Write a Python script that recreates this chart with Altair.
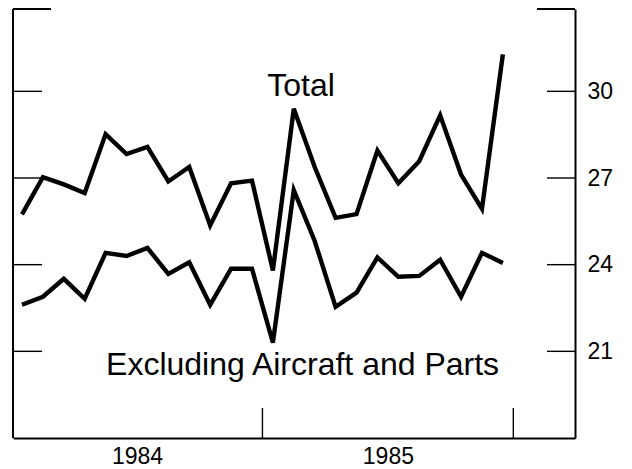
import altair as alt
import pandas as pd

# Monthly data, Jan 1984 .. Dec 1985 (billions of dollars)
month_index = list(range(24))
total = [25.74, 27.03, 26.78, 26.48, 28.52, 27.83, 28.08, 26.88, 27.38, 25.36, 26.82, 26.91,
         23.80, 29.40, 27.38, 25.62, 25.75, 27.95, 26.82, 27.58, 29.17, 27.12, 25.93, 31.28]
excluding = [22.61, 22.89, 23.51, 22.82, 24.41, 24.30, 24.58, 23.68, 24.08, 22.61, 23.86, 23.86,
             21.30, 26.58, 24.82, 22.54, 23.03, 24.25, 23.58, 23.61, 24.17, 22.89, 24.41, 24.06]
y_tick_values = [21, 24, 27, 30]
year_names = ["1984", "1985"]
year_mid = [6, 18]
year_bounds = [12, 24]
series_labels = ["Total", "Excluding Aircraft and Parts"]
label_x = [13.85, 13.92]
label_y = [29.84, 20.19]

W, H = 562, 429
FONT = "Liberation Sans"

rows = []
for name, vals in (("Total", total), ("Excluding", excluding)):
    for m, v in zip(month_index, vals):
        rows.append({"series": name, "t": m + 0.5, "value": v})
df = pd.DataFrame(rows)

xscale = alt.Scale(domain=[0.07, 26.95], nice=False, zero=False)
yscale = alt.Scale(domain=[18, 32.85], nice=False, zero=False)

x_axis = alt.Axis(values=year_mid,
                  labelExpr="datum.value == 6 ? '%s' : '%s'" % (year_names[0], year_names[1]),
                  ticks=False, tickSize=0, grid=False, title=None, domain=True,
                  domainColor="black", domainWidth=2, labelFont=FONT, labelFontSize=23,
                  labelColor="black", labelPadding=7)
y_axis = alt.Axis(orient="right", values=y_tick_values, ticks=False, tickSize=0,
                  grid=False, title=None, domain=True, domainColor="black",
                  domainWidth=2, labelFont=FONT, labelFontSize=23,
                  labelColor="black", labelPadding=12)

lines = alt.Chart(df).mark_line(color="black", strokeWidth=4.4, strokeJoin="miter").encode(
    x=alt.X("t:Q", scale=xscale, axis=x_axis),
    y=alt.Y("value:Q", scale=yscale, axis=y_axis),
    detail="series:N",
)

one = pd.DataFrame({"k": [0]})
left_frame = alt.Chart(one).mark_rule(color="black", strokeWidth=2).encode(
    x=alt.value(0), y=alt.value(0), y2=alt.value(H))

tick_df = pd.DataFrame({"v": y_tick_values})
left_ticks = alt.Chart(tick_df).mark_rule(color="black", strokeWidth=1.4).encode(
    y=alt.Y("v:Q", scale=yscale, axis=y_axis), x=alt.value(0), x2=alt.value(29))
right_ticks = alt.Chart(tick_df).mark_rule(color="black", strokeWidth=1.4).encode(
    y=alt.Y("v:Q", scale=yscale, axis=y_axis), x=alt.value(W - 28), x2=alt.value(W))

top_left = alt.Chart(one).mark_rule(color="black", strokeWidth=2).encode(
    y=alt.value(0), x=alt.value(0), x2=alt.value(38))
top_right = alt.Chart(one).mark_rule(color="black", strokeWidth=2).encode(
    y=alt.value(0), x=alt.value(W - 38), x2=alt.value(W))

year_df = pd.DataFrame({"b": year_bounds})
year_ticks = alt.Chart(year_df).mark_rule(color="black", strokeWidth=1.4).encode(
    x=alt.X("b:Q", scale=xscale, axis=x_axis), y=alt.value(H), y2=alt.value(H - 30))

lab_df = pd.DataFrame({"label": series_labels, "lx": label_x, "ly": label_y})
labels = alt.Chart(lab_df).mark_text(font=FONT, fontSize=32, color="black",
                                     align="center", baseline="alphabetic").encode(
    x=alt.X("lx:Q", scale=xscale, axis=x_axis),
    y=alt.Y("ly:Q", scale=yscale, axis=y_axis),
    text="label:N",
)

chart = alt.layer(lines, left_frame, left_ticks, right_ticks, top_left, top_right,
                  year_ticks, labels).properties(
    width=W, height=H,
    padding={"left": 4, "top": 0, "right": 5, "bottom": 0},
    background="white",
).configure_view(stroke=None)

chart.save("out.html", embed_options={"renderer": "svg", "actions": False})
